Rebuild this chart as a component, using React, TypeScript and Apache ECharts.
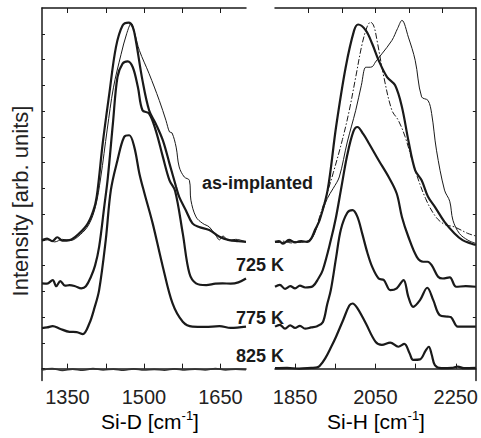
import React, { useEffect, useRef } from "react";
import * as echarts from "echarts";

// ---------- data (wavenumber [cm^-1], intensity [arb. units, offset]) ----------
const asImplThickD: [number, number][] = [
  [1300, 4.99], [1310, 5.05], [1320, 4.95], [1330, 5.1], [1340, 4.97], [1354, 4.99], [1373, 5.25],
  [1390, 5.64], [1403, 6.28], [1409, 6.93], [1419, 8.74], [1432, 10.68], [1445, 12.48], [1458, 13.32],
  [1470, 13.43], [1478, 13.26], [1484, 12.74], [1497, 11.19], [1510, 10.03], [1523, 9.51], [1537, 8.86],
  [1550, 7.96], [1563, 7.05], [1569, 6.67], [1582, 6.15], [1595, 5.64], [1608, 5.5], [1628, 5.38],
  [1648, 5.12], [1667, 4.99], [1685, 4.95], [1700, 4.92],
];
const asImplThinD: [number, number][] = [
  [1300, 4.95], [1312, 5.0], [1325, 4.92], [1340, 5.02], [1355, 4.97], [1375, 5.2], [1392, 5.6],
  [1405, 6.3], [1415, 7.4], [1428, 9.3], [1440, 10.9], [1455, 12.2], [1466, 13.0], [1475, 13.4],
  [1482, 13.0], [1491, 12.35], [1510, 11.45], [1530, 10.41], [1543, 9.64], [1550, 9.19], [1555, 9.15],
  [1563, 8.6], [1569, 7.83], [1579, 7.44], [1589, 7.31], [1592, 6.54], [1602, 5.89], [1615, 5.64],
  [1628, 5.5], [1640, 5.2], [1648, 5.0], [1655, 5.15], [1665, 4.98], [1680, 5.02], [1700, 4.92],
];
const k725D: [number, number][] = [
  [1300, 3.31], [1310, 3.3], [1321, 3.44], [1328, 3.2], [1336, 3.4], [1345, 3.22], [1354, 3.24],
  [1365, 3.2], [1377, 3.12], [1386, 3.2], [1396, 3.57], [1404, 4.0], [1412, 4.73], [1422, 6.28],
  [1429, 7.4], [1439, 9.51], [1448, 11.32], [1458, 11.84], [1468, 11.93], [1478, 11.7], [1488, 10.93],
  [1497, 10.03], [1510, 9.9], [1523, 9.25], [1537, 8.22], [1550, 7.31], [1561, 6.9], [1576, 5.25],
  [1589, 3.7], [1602, 3.31], [1622, 3.24], [1640, 3.3], [1654, 3.31], [1670, 3.3], [1685, 3.35],
  [1700, 3.5],
];
const k775D: [number, number][] = [
  [1300, 1.57], [1310, 1.6], [1321, 1.65], [1335, 1.55], [1354, 1.43], [1368, 1.42], [1380, 1.34],
  [1393, 1.76], [1402, 2.3], [1412, 3.05], [1425, 4.99], [1435, 6.93], [1448, 8.09], [1461, 8.99],
  [1471, 9.06], [1481, 8.6], [1491, 7.57], [1501, 6.8], [1517, 5.64], [1537, 3.95], [1556, 2.53],
  [1576, 1.82], [1595, 1.63], [1620, 1.62], [1648, 1.65], [1670, 1.58], [1700, 1.63],
];
const k825D: [number, number][] = [
  [1300, -0.05], [1320, 0.0], [1340, -0.07], [1360, -0.02], [1380, -0.06], [1400, 0.0], [1420, -0.05],
  [1440, -0.02], [1460, -0.06], [1480, -0.01], [1500, -0.05], [1520, -0.03], [1540, -0.06],
  [1560, -0.01], [1580, -0.05], [1600, -0.02], [1620, -0.05], [1640, 0.0], [1660, -0.05],
  [1680, -0.02], [1700, -0.04],
];

const asImplThickH: [number, number][] = [
  [1800, 4.92], [1810, 4.95], [1820, 4.85], [1835, 5.0], [1850, 4.9], [1865, 4.95], [1880, 4.92],
  [1890, 5.05], [1900, 5.4], [1911, 5.76], [1931, 6.93], [1952, 9.38], [1976, 11.7], [1997, 13.13],
  [2007, 13.36], [2026, 13.13], [2042, 12.61], [2058, 11.97], [2079, 11.32], [2099, 11.0], [2116, 10.16],
  [2132, 8.86], [2149, 7.7], [2165, 7.31], [2181, 6.67], [2198, 6.28], [2222, 5.7], [2247, 5.25],
  [2267, 4.99], [2288, 4.86], [2300, 4.8],
];
const asImplDashH: [number, number][] = [
  [1800, 4.9], [1820, 4.95], [1840, 4.88], [1860, 4.95], [1880, 4.92], [1894, 5.12], [1911, 5.89],
  [1927, 6.67], [1945, 7.6], [1968, 8.9], [1985, 10.03], [2001, 11.32], [2017, 12.61], [2030, 13.3],
  [2038, 13.45], [2046, 13.3], [2054, 12.74], [2071, 11.32], [2091, 10.03], [2107, 9.64], [2124, 9.0],
  [2149, 7.7], [2175, 6.6], [2200, 5.9], [2222, 5.6], [2247, 5.5], [2280, 5.25], [2300, 5.15],
];
const asImplThinH: [number, number][] = [
  [1800, 4.9], [1820, 4.9], [1840, 4.95], [1860, 4.9], [1880, 4.95], [1894, 5.1], [1911, 5.8],
  [1930, 6.6], [1945, 7.0], [1960, 7.44], [1980, 8.8], [2001, 10.03], [2015, 11.0], [2026, 11.7],
  [2034, 11.7], [2042, 11.72], [2050, 11.9], [2066, 12.22], [2091, 12.74], [2105, 13.2], [2116, 13.52],
  [2132, 12.87], [2149, 11.97], [2165, 10.55], [2181, 10.41], [2190, 9.9], [2202, 8.48], [2222, 6.93],
  [2235, 6.5], [2243, 5.76], [2259, 5.25], [2280, 4.99], [2300, 4.86],
];
const k725H: [number, number][] = [
  [1800, 3.18], [1812, 3.25], [1825, 3.1], [1838, 3.2], [1850, 3.12], [1862, 3.22], [1875, 3.15],
  [1894, 3.2], [1908, 3.5], [1919, 3.83], [1939, 4.99], [1952, 5.89], [1964, 6.93], [1980, 8.3],
  [1995, 9.2], [2005, 9.38], [2020, 9.1], [2034, 8.74], [2058, 8.09], [2083, 7.44], [2103, 6.8],
  [2116, 5.89], [2132, 5.12], [2153, 4.34], [2169, 4.15], [2180, 4.15], [2190, 4.02], [2206, 3.57],
  [2218, 3.5], [2235, 3.54], [2251, 3.18], [2275, 3.2], [2300, 3.18],
];
const k775H: [number, number][] = [
  [1800, 1.63], [1812, 1.7], [1825, 1.55], [1838, 1.68], [1850, 1.58], [1862, 1.66], [1875, 1.55],
  [1890, 1.6], [1905, 1.65], [1919, 1.8], [1930, 2.5], [1939, 3.05], [1952, 4.3], [1964, 5.4],
  [1980, 6.05], [1993, 6.15], [2005, 5.9], [2017, 5.25], [2030, 4.5], [2042, 3.95], [2058, 3.5],
  [2071, 3.44], [2087, 3.05], [2103, 3.12], [2120, 3.44], [2132, 2.79], [2144, 2.4], [2161, 2.66],
  [2179, 3.14], [2194, 2.66], [2210, 2.08], [2230, 2.02], [2238, 2.0], [2255, 1.63], [2275, 1.63],
  [2300, 1.63],
];
const k825H: [number, number][] = [
  [1800, 0.02], [1830, 0.03], [1860, 0.0], [1890, 0.03], [1905, 0.05], [1911, 0.1], [1925, 0.4],
  [1940, 0.85], [1952, 1.24], [1970, 1.9], [1985, 2.45], [1993, 2.53], [2005, 2.35], [2026, 1.76],
  [2050, 1.05], [2066, 0.92], [2087, 1.01], [2107, 0.85], [2122, 0.96], [2135, 0.6], [2144, 0.34],
  [2161, 0.36], [2175, 0.7], [2183, 0.85], [2190, 0.55], [2198, 0.14], [2214, 0.02], [2240, 0.03],
  [2255, 0.08], [2270, 0.02], [2300, 0.03],
];

// ---------- axes / ticks ----------
const xRangeD = [1300, 1700];
const xRangeH = [1800, 2300];
const yRange = [-0.46, 14];
const xTicksD = [1350, 1425, 1500, 1575, 1650];
const xLabelsD = [1350, 1500, 1650];
const xTicksH = [1850, 1950, 2050, 2150, 2250];
const xLabelsH = [1850, 2050, 2250];
const xTopTicksH = [1883, 1967, 2050, 2133, 2217];
const yTicksLeft = [0, 1, 2, 3, 4, 5, 6, 7, 8, 9, 10, 11, 12, 13];
const yTicksRight = [0, 2, 4, 6, 8, 10, 12];

const tempLabels = ["725 K", "775 K", "825 K"];
const tempLabelY = [265, 318, 356];

const FONT = "'Liberation Sans', Arial, Helvetica, sans-serif";
const INK = "#1a1a1a";

export default function App() {
  const ref = useRef<HTMLDivElement>(null);
  useEffect(() => {
    if (!ref.current) return;
    const chart = echarts.init(ref.current, undefined, { renderer: "svg" });
    const axisLine = { show: true, lineStyle: { color: INK, width: 1.5 } };
    const xAxisBase = (range: number[], grid: number, pos: "top" | "bottom", ticks: number[], labels: number[] | null) => ({
      type: "value",
      gridIndex: grid,
      position: pos,
      min: range[0],
      max: range[1],
      axisLine,
      splitLine: { show: false },
      axisTick: { show: true, inside: true, length: 5, customValues: ticks, lineStyle: { color: INK, width: 1 } },
      axisLabel: labels
        ? { show: true, customValues: labels, margin: 6, fontSize: 20, color: "#222", fontFamily: FONT, formatter: (v: number) => String(v) }
        : { show: false },
    });
    const yAxisBase = (grid: number, pos: "left" | "right", ticks: number[]) => ({
      type: "value",
      gridIndex: grid,
      position: pos,
      min: yRange[0],
      max: yRange[1],
      axisLine,
      splitLine: { show: false },
      axisTick: { show: true, inside: true, length: 3, customValues: ticks, lineStyle: { color: INK, width: 1 } },
      axisLabel: { show: false },
    });
    const line = (data: [number, number][], xi: number, yi: number, width: number, type: any = "solid", color = INK) => ({
      type: "line",
      xAxisIndex: xi,
      yAxisIndex: yi,
      data,
      showSymbol: false,
      smooth: 0.35,
      lineStyle: { color, width, type },
      silent: true,
    });
    const titleRich = {
      a: { fontSize: 21, fontFamily: FONT, color: "#222", lineHeight: 25 },
      b: { fontSize: 13, fontFamily: FONT, color: "#222", verticalAlign: "top", lineHeight: 14 },
    };
    chart.setOption({
      animation: false,
      backgroundColor: "#fff",
      grid: [
        { left: 42, top: 8, width: 204, height: 372.5 },
        { left: 275, top: 8, width: 203, height: 372.5 },
      ],
      xAxis: [
        xAxisBase(xRangeD, 0, "bottom", xTicksD, xLabelsD),
        xAxisBase(xRangeD, 0, "top", xTicksD, null),
        xAxisBase(xRangeH, 1, "bottom", xTicksH, xLabelsH),
        xAxisBase(xRangeH, 1, "top", xTopTicksH, null),
      ],
      yAxis: [yAxisBase(0, "left", yTicksLeft), yAxisBase(1, "right", yTicksRight)],
      series: [
        line(k825D, 0, 0, 1.6, "solid", "#333"),
        line(k775D, 0, 0, 2.2),
        line(k725D, 0, 0, 2.2),
        line(asImplThinD, 0, 0, 1),
        line(asImplThickD, 0, 0, 2.2),
        line(k825H, 2, 1, 2.2),
        line(k775H, 2, 1, 2.2),
        line(k725H, 2, 1, 2.2),
        line(asImplThinH, 2, 1, 1),
        line(asImplDashH, 2, 1, 1, [6, 2, 1.5, 2]),
        line(asImplThickH, 2, 1, 2.2),
      ],
      graphic: [
        {
          type: "text",
          x: 313,
          y: 183,
          style: { text: "as-implanted", fontSize: 18, fontWeight: "bold", fontFamily: FONT, fill: INK, align: "right", verticalAlign: "middle" },
        },
        ...tempLabels.map((t, i) => ({
          type: "text",
          x: 236,
          y: tempLabelY[i],
          style: { text: t, fontSize: 18, fontWeight: "bold", fontFamily: FONT, fill: INK, align: "left", verticalAlign: "middle" },
        })),
        {
          type: "text",
          x: 150,
          y: 421,
          style: { text: "{a|Si-D [cm}{b|-1}{a|]}", rich: titleRich, align: "center", verticalAlign: "middle" },
        },
        {
          type: "text",
          x: 376,
          y: 421,
          style: { text: "{a|Si-H [cm}{b|-1}{a|]}", rich: titleRich, align: "center", verticalAlign: "middle" },
        },
        {
          type: "text",
          x: 20,
          y: 201,
          rotation: Math.PI / 2,
          style: { text: "Intensity [arb. units]", fontSize: 22, fontFamily: FONT, fill: "#222", align: "center", verticalAlign: "middle" },
        },
      ],
    });
    return () => chart.dispose();
  }, []);
  return <div ref={ref} style={{ width: 481, height: 438, position: "absolute", left: 0, top: 0 }} />;
}
